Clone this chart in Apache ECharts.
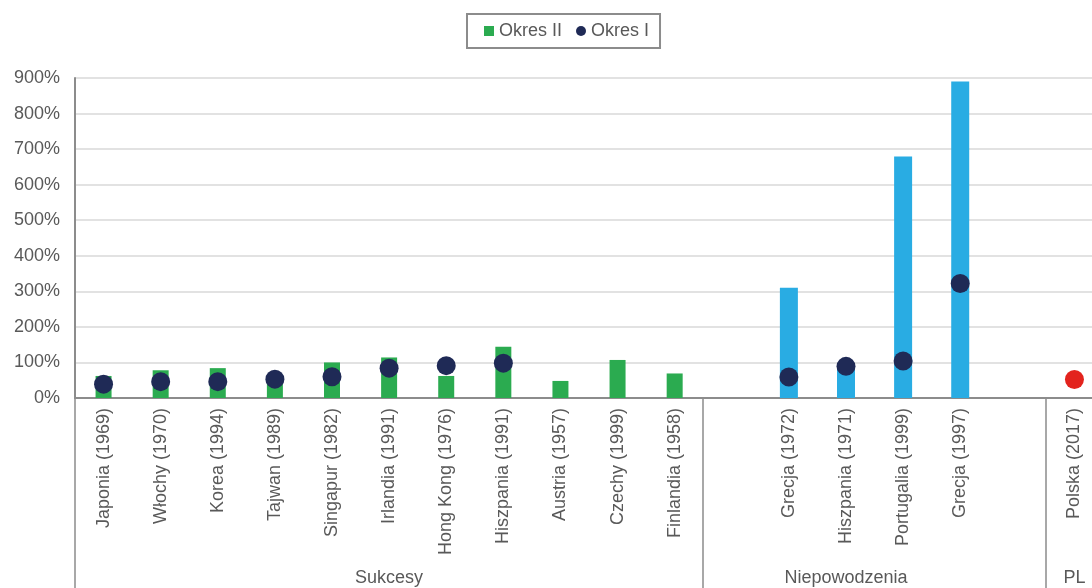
<!DOCTYPE html>
<html>
<head>
<meta charset="utf-8">
<script src="https://cdn.jsdelivr.net/npm/echarts@6/dist/echarts.min.js"></script>
<style>
html,body{margin:0;padding:0;background:#fff;}
#chart{width:1092px;height:588px;}
</style>
</head>
<body>
<div id="chart"></div>
<script>
// Categories (empty strings are the blank spacer slots between groups)
var categories = [
  'Japonia (1969)', 'Włochy (1970)', 'Korea (1994)', 'Tajwan (1989)', 'Singapur (1982)',
  'Irlandia (1991)', 'Hong Kong (1976)', 'Hiszpania (1991)', 'Austria (1957)', 'Czechy (1999)',
  'Finlandia (1958)', '', 'Grecja (1972)', 'Hiszpania (1971)', 'Portugalia (1999)',
  'Grecja (1997)', '', 'Polska (2017)'
];
// Okres II – successes (green bars)
var okres2Sukcesy = [62, 78, 84, 62, 100, 114, 62, 144, 48, 107, 69, null, null, null, null, null, null, null];
// Okres II – failures (blue bars)
var okres2Niepowodzenia = [null, null, null, null, null, null, null, null, null, null, null, null, 310, 93, 679, 890, null, null];
// Okres I (dark dots)
var okres1 = [39, 46, 46, 53, 60, 84, 91, 98, null, null, null, null, 59, 89, 104, 322, null, null];
// Polska (red dot)
var polska = [null, null, null, null, null, null, null, null, null, null, null, null, null, null, null, null, null, 52];
// Groups: boundaries (category index) and label positions
var groupNames = ['Sukcesy', 'Niepowodzenia', 'PL'];
var groupBoundaries = [0, 11, 17];
var groupCenters = [5.5, 13.5, 17.5];

var FONT = '"Liberation Sans", Arial, Helvetica, sans-serif';
var TXT = '#595959';
var AXIS = '#8c8c8c';

var chart = echarts.init(document.getElementById('chart'));
chart.setOption({
  animation: false,
  textStyle: {fontFamily: FONT},
  legend: {
    left: 467, top: 14,
    data: [{name: 'Okres II', icon: 'rect'}, {name: 'Okres I', icon: 'circle'}],
    itemWidth: 10, itemHeight: 10, itemGap: 14,
    borderColor: AXIS, borderWidth: 2, borderRadius: 0,
    padding: [8, 11, 8, 17],
    textStyle: {fontSize: 18, color: TXT, fontFamily: FONT}
  },
  grid: {left: 75, right: -11, top: 78, bottom: 190, containLabel: false, outerBoundsMode: 'none'},
  xAxis: [
    {
      type: 'category', data: categories, position: 'bottom',
      axisLine: {show: true, lineStyle: {color: AXIS, width: 2}},
      axisTick: {show: false},
      axisLabel: {interval: 0, rotate: 90, margin: 10, fontSize: 18, color: TXT, fontFamily: FONT},
      splitLine: {show: false}
    },
    {
      type: 'category', data: categories, show: false
    },
    {
      type: 'value', min: 0, max: categories.length, position: 'bottom',
      axisLine: {show: false},
      splitLine: {show: false},
      axisTick: {show: true, customValues: groupBoundaries, length: 190, lineStyle: {color: AXIS, width: 1.5}},
      axisLabel: {
        show: true, customValues: groupCenters, margin: 171, fontSize: 18, color: TXT, fontFamily: FONT,
        formatter: function (v) {
          var i = groupCenters.indexOf(v);
          return i >= 0 ? groupNames[i] : '';
        }
      }
    }
  ],
  yAxis: {
    type: 'value', min: 0, max: 900, interval: 100,
    axisLine: {show: true, lineStyle: {color: AXIS, width: 2}},
    axisTick: {show: false},
    axisLabel: {formatter: '{value}%', fontSize: 18, color: TXT, margin: 15, fontFamily: FONT},
    splitLine: {show: true, lineStyle: {color: '#d9d9d9', width: 1.5}}
  },
  series: [
    {
      name: 'Okres II', type: 'bar', xAxisIndex: 0, data: okres2Sukcesy,
      barWidth: 16, itemStyle: {color: '#2bab50'}, z: 2
    },
    {
      name: 'Okres II (niepowodzenia)', type: 'bar', xAxisIndex: 1, data: okres2Niepowodzenia,
      barWidth: 18, itemStyle: {color: '#29ace3'}, z: 2
    },
    {
      name: 'Okres I', type: 'scatter', xAxisIndex: 0, data: okres1,
      symbol: 'circle', symbolSize: 19, itemStyle: {color: '#1f2a56', opacity: 1}, z: 5
    },
    {
      name: 'Polska', type: 'scatter', xAxisIndex: 0, data: polska,
      symbol: 'circle', symbolSize: 19, itemStyle: {color: '#e3231d', opacity: 1}, z: 5
    }
  ]
});
</script>
</body>
</html>
